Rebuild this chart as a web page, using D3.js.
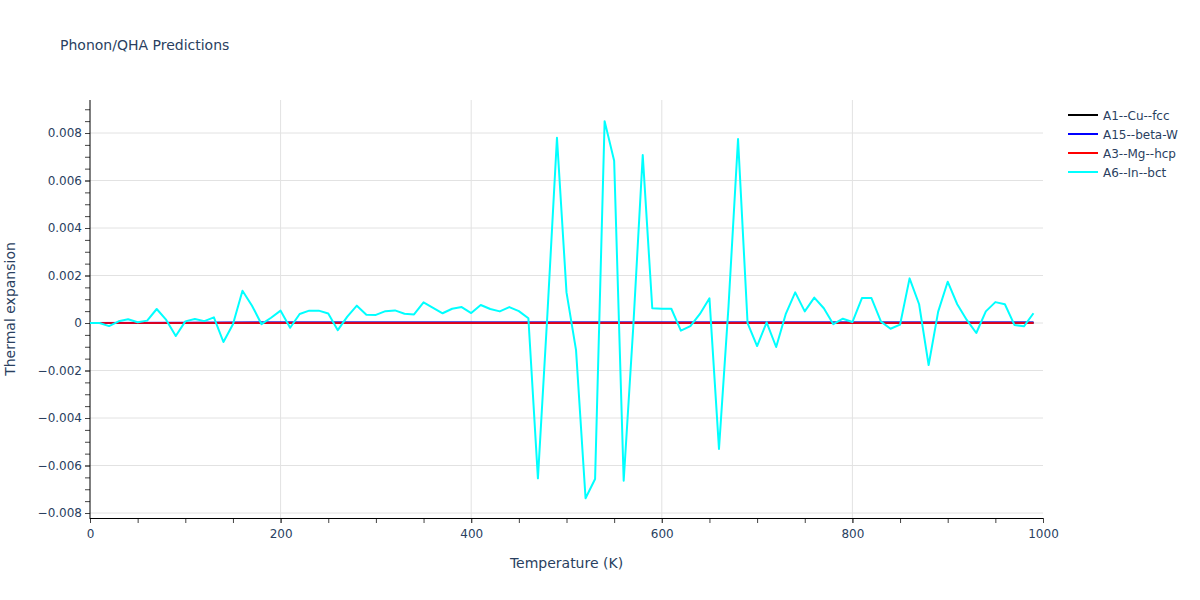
<!DOCTYPE html>
<html>
<head>
<meta charset="utf-8">
<script src="https://cdn.jsdelivr.net/npm/d3@7/dist/d3.min.js"></script>
<style>
  html, body { margin: 0; padding: 0; background: #fff; }
  text { font-family: "DejaVu Sans", Verdana, sans-serif; fill: #2a3f5f; }
</style>
</head>
<body>
<svg id="chart" width="1200" height="600"></svg>
<script>
// ---- data ----
const temps = [0,10,20,30,40,50,60,70,80,90,100,110,120,130,140,150,160,170,180,190,
  200,210,220,230,240,250,260,270,280,290,300,310,320,330,340,350,360,370,380,390,
  400,410,420,430,440,450,460,470,480,490,500,510,520,530,540,550,560,570,580,590,
  600,610,620,630,640,650,660,670,680,690,700,710,720,730,740,750,760,770,780,790,
  800,810,820,830,840,850,860,870,880,890,900,910,920,930,940,950,960,970,980,990];

const inBct = [0,0,-0.00013,0.00007,0.00016,0.00003,0.0001,0.00059,0.00013,-0.00055,
  0.00007,0.00017,0.00008,0.00024,-0.0008,-0.00005,0.00136,0.00073,-0.00005,0.00022,
  0.00052,-0.0002,0.00038,0.00052,0.00052,0.0004,-0.0003,0.00027,0.00073,0.00035,
  0.00034,0.0005,0.00053,0.00039,0.00036,0.00087,0.00064,0.00041,0.0006,0.00067,
  0.00042,0.00076,0.00059,0.00049,0.00067,0.0005,0.0002,-0.00654,0.0004,0.0078,
  0.00129,-0.00114,-0.00738,-0.00657,0.0085,0.00683,-0.00664,-0.0002,0.00707,0.00062,
  0.0006,0.0006,-0.00032,-0.00013,0.00038,0.00104,-0.0053,0.0007,0.00775,0,
  -0.00097,0.00003,-0.00101,0.00037,0.00129,0.00049,0.00107,0.00062,-0.00005,0.00018,
  0.00004,0.00105,0.00105,0.00006,-0.00024,-0.00007,0.00188,0.00079,-0.00177,0.00048,
  0.00174,0.00079,0.00013,-0.00042,0.00049,0.00088,0.00079,-0.00008,-0.00014,0.00041];

const flatTemps = [0, 100, 200, 300, 400, 500, 600, 700, 800, 900, 990];
const cuFcc  = [0, 0.000005, 0.00001, 0.00001, 0.00001, 0.00001, 0.00001, 0.00001, 0.00001, 0.00001, 0.00001];
const betaW  = [0, 0.00001, 0.00002, 0.00002, 0.00002, 0.00002, 0.00002, 0.00002, 0.00002, 0.00002, 0.00002];
const mgHcp  = [0, 0.000002, 0.000004, 0.000005, 0.000005, 0.000005, 0.000005, 0.000005, 0.000005, 0.000005, 0.000005];

const seriesNames  = ["A1--Cu--fcc", "A15--beta-W", "A3--Mg--hcp", "A6--In--bct"];
const seriesColors = ["#000000", "#0000ff", "#ff0000", "#00ffff"];

const xTicks = [0, 200, 400, 600, 800, 1000];
const yTicks = [-0.008, -0.006, -0.004, -0.002, 0, 0.002, 0.004, 0.006, 0.008];

// ---- layout ----
const svg = d3.select("#chart");
svg.append("rect").attr("width", 1200).attr("height", 600).attr("fill", "#fff");

const L = 90, R = 1043, T = 100, B = 518;
const x = d3.scaleLinear().domain([0, 1000]).range([L, R]);
const y = d3.scaleLinear().domain([-0.00821, 0.00939]).range([B, T]);

const fmtY = v => v === 0 ? "0" : d3.format(".3f")(v).replace("-", "\u2212");
const FONT = "'DejaVu Sans', Verdana, sans-serif";

// grid
const grid = svg.append("g");
grid.selectAll("line.gx").data(xTicks.filter(t => t > 0 && t < 1000)).enter().append("line")
  .attr("x1", d => x(d)).attr("x2", d => x(d)).attr("y1", T).attr("y2", B)
  .attr("stroke", "#e2e2e2").attr("stroke-width", 1);
grid.selectAll("line.gy").data(yTicks).enter().append("line")
  .attr("x1", L).attr("x2", R).attr("y1", d => y(d)).attr("y2", d => y(d))
  .attr("stroke", "#e2e2e2").attr("stroke-width", 1);

// axes
const xMinor = d3.range(0, 1001, 50);
const yMinor = d3.range(-16, 19).map(k => k * 0.0005).filter(v => y(v) >= T - 0.5 && y(v) <= B + 0.5);

const xAxis = svg.append("g").attr("transform", `translate(0,${B})`)
  .call(d3.axisBottom(x).tickValues(xMinor).tickSize(5).tickFormat(""));
xAxis.select(".domain").remove();
xAxis.selectAll("line").attr("stroke", "#444");
const xLab = svg.append("g").attr("transform", `translate(0,${B})`)
  .call(d3.axisBottom(x).tickValues(xTicks).tickSize(5).tickPadding(6).tickFormat(d3.format("d")));
xLab.select(".domain").remove();
xLab.selectAll("line").attr("stroke", "#444");
xLab.selectAll("text").style("font-size", "12px").attr("fill", "#2a3f5f").style("font-family", FONT);

const yAxis = svg.append("g").attr("transform", `translate(${L},0)`)
  .call(d3.axisLeft(y).tickValues(yMinor).tickSize(5).tickFormat(""));
yAxis.select(".domain").remove();
yAxis.selectAll("line").attr("stroke", "#444");
const yLab = svg.append("g").attr("transform", `translate(${L},0)`)
  .call(d3.axisLeft(y).tickValues(yTicks).tickSize(5).tickPadding(3).tickFormat(fmtY));
yLab.select(".domain").remove();
yLab.selectAll("line").attr("stroke", "#444");
yLab.selectAll("text").style("font-size", "12px").attr("fill", "#2a3f5f").style("font-family", FONT);

// axis lines
svg.append("line").attr("x1", L).attr("x2", L).attr("y1", T).attr("y2", B + 1)
  .attr("stroke", "#000").attr("stroke-width", 1);
svg.append("line").attr("x1", L).attr("x2", R).attr("y1", B + 0.5).attr("y2", B + 0.5)
  .attr("stroke", "#000").attr("stroke-width", 1);

// lines
const line = d3.line().x(d => x(d[0])).y(d => y(d[1]));
const plot = svg.append("g");
const flatSeries = [cuFcc, betaW, mgHcp];
flatSeries.forEach((vals, i) => {
  plot.append("path").datum(flatTemps.map((t, j) => [t, vals[j]]))
    .attr("d", line).attr("fill", "none")
    .attr("stroke", seriesColors[i]).attr("stroke-width", 2)
    .attr("stroke-opacity", i === 2 ? 0.85 : 1)
    .attr("stroke-linejoin", "round");
});
plot.append("path").datum(temps.map((t, j) => [t, inBct[j]]))
  .attr("d", line).attr("fill", "none")
  .attr("stroke", seriesColors[3]).attr("stroke-width", 2)
  .attr("stroke-linejoin", "round");

// titles
svg.append("text").attr("x", 60).attr("y", 50).text("Phonon/QHA Predictions")
  .style("font-size", "14px");
svg.append("text").attr("x", (L + R) / 2).attr("y", 568).attr("text-anchor", "middle")
  .text("Temperature (K)").style("font-size", "14px");
svg.append("text").attr("transform", `translate(15,${(T + B) / 2}) rotate(-90)`)
  .attr("text-anchor", "middle").text("Thermal expansion").style("font-size", "14px");

// legend
const leg = svg.append("g").attr("transform", "translate(1068,115)");
seriesNames.forEach((name, i) => {
  const g = leg.append("g").attr("transform", `translate(0,${i * 19})`);
  g.append("line").attr("x1", 0).attr("x2", 30).attr("y1", 0).attr("y2", 0)
    .attr("stroke", seriesColors[i]).attr("stroke-width", 2);
  g.append("text").attr("x", 35).attr("y", 4.5).text(name).style("font-size", "12px");
});
</script>
</body>
</html>
